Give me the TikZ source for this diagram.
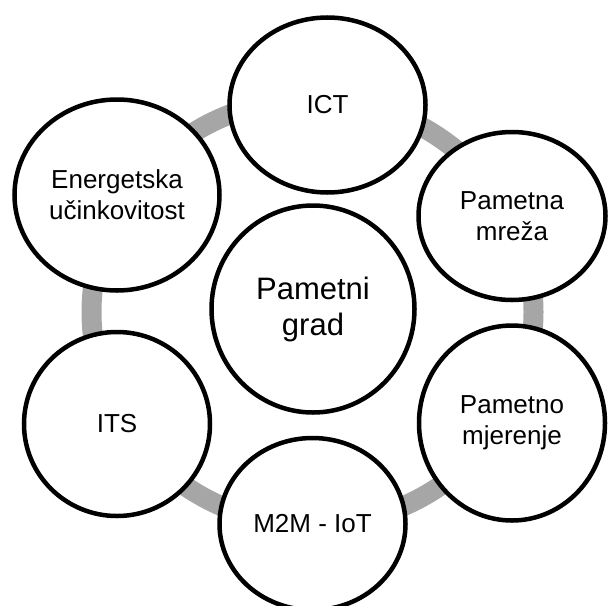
\documentclass[tikz,border=0pt]{standalone}
\usepackage{fontspec}
\setmainfont{Liberation Sans}
\usetikzlibrary{shapes.geometric}
\definecolor{ringgray}{HTML}{A6A6A6}
\tikzset{>=latex}

\begin{document}
\begin{tikzpicture}[x=1pt, y=-1pt]
        % ring first, circles are filled white on top of it
        \tikzstyle{every node}=[ellipse, draw=black, line width=4.5pt, fill=white, inner sep=0pt, align=center, font=\fontsize{26}{31}\selectfont]
        \tikzstyle{ring}=[draw=ringgray, line width=20pt]
        \useasboundingbox (0,0) rectangle (609,605);
        \draw[ring] (312.5,312) ellipse [x radius=221, y radius=213];

        \node (grad) [minimum width=203, minimum height=207, font=\fontsize{31}{36}\selectfont] at (313,309) {Pametni\\grad};
        \node (ict) [minimum width=196, minimum height=175] at (327.5,105) {ICT};
        \node (mreza) [minimum width=187, minimum height=168] at (512,216) {Pametna\\mreža};
        \node (mjer) [minimum width=186, minimum height=195] at (512,423) {Pametno\\mjerenje};
        \node (iot) [minimum width=186, minimum height=172] at (312.5,524) {M2M - IoT};
        \node (its) [minimum width=186, minimum height=184] at (117,424) {ITS};
        \node (energ) [minimum width=205, minimum height=191] at (117,195) {Energetska\\učinkovitost};

\end{tikzpicture}
\end{document}
